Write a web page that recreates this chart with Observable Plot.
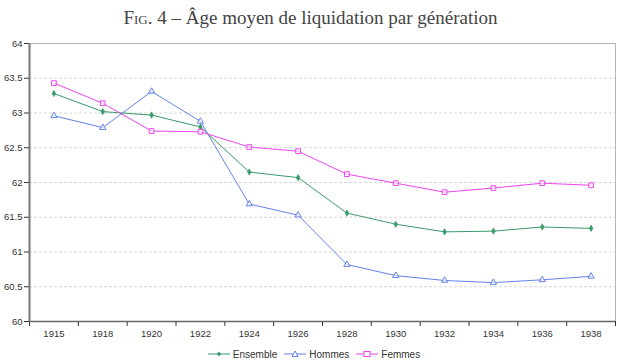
<!DOCTYPE html>
<html>
<head>
<meta charset="utf-8">
<script src="https://cdn.jsdelivr.net/npm/d3@7"></script>
<script src="https://cdn.jsdelivr.net/npm/@observablehq/plot@0.6"></script>
<style>
  body { margin: 0; background: #fff; width: 621px; overflow: hidden; }
  #title { font-family: "Liberation Serif", "DejaVu Serif", serif; font-size: 19px; color: #444; text-align: center; height: 36px; line-height: 36px; }
  #title .sc { font-variant: small-caps; }
  #legend { font-family: "Liberation Sans", Arial, sans-serif; font-size: 10px; color: #333; display: flex; justify-content: center; gap: 6px; margin-top: 6px; padding-left: 6px; }
  #legend span.item { display: inline-flex; align-items: center; gap: 2px; }
</style>
</head>
<body>
<div id="title"><span class="sc">Fig.</span> 4 – Âge moyen de liquidation par génération</div>
<div id="chart"></div>
<div id="legend"></div>
<script>
const years = ["1915","1918","1920","1922","1924","1926","1928","1930","1932","1934","1936","1938"];
const ensemble = [63.28,63.02,62.97,62.80,62.15,62.07,61.56,61.40,61.29,61.30,61.36,61.34];
const hommes   = [62.96,62.79,63.31,62.88,61.69,61.53,60.82,60.66,60.59,60.56,60.60,60.65];
const femmes   = [63.43,63.14,62.74,62.73,62.51,62.45,62.12,61.99,61.86,61.92,61.99,61.96];
const yTicks = [60,60.5,61,61.5,62,62.5,63,63.5,64];
const seriesNames = ["Ensemble","Hommes","Femmes"];
const colors = {Ensemble: "#3a9a6a", Hommes: "#6282ea", Femmes: "#ee44ee"};

const seriesValues = {Ensemble: ensemble, Hommes: hommes, Femmes: femmes};
const rows = [];
for (const s of seriesNames) {
  seriesValues[s].forEach((v, i) => rows.push({series: s, year: years[i], pos: i + 0.5, value: v}));
}
const centers = years.map((_, i) => i + 0.5);

const marks = [
  Plot.ruleY(yTicks.filter(d => d > 60 && d < 64), {stroke: "#d6d6d6", strokeDasharray: "3,2", strokeWidth: 1}),
  Plot.ruleY([64], {stroke: "#b5b5b5"}),
  Plot.ruleX([12], {stroke: "#b5b5b5"}),
  Plot.axisY({ticks: yTicks, tickSize: 5, tickPadding: 2, tickFormat: d => String(d), fontSize: 9.5, label: null, color: "#333"}),
  Plot.axisX({ticks: d3.range(13), tickSize: 5, tickFormat: () => "", label: null, color: "#333"}),
  Plot.axisX({ticks: centers, tickSize: 0, tickPadding: 9, tickFormat: d => years[Math.round(d - 0.5)], fontSize: 9.5, label: null, color: "#333"}),
  Plot.ruleY([60], {stroke: "#666", strokeWidth: 1.5}),
  Plot.ruleX([0], {stroke: "#777", strokeWidth: 2})
];
for (const s of seriesNames) {
  const data = rows.filter(r => r.series === s);
  marks.push(Plot.line(data, {x: "pos", y: "value", stroke: colors[s], strokeWidth: 1}));
  if (s === "Ensemble") {
    marks.push(Plot.dot(data, {x: "pos", y: "value", symbol: "diamond", r: 2, fill: colors[s], stroke: colors[s], strokeWidth: 0.5}));
  } else {
    marks.push(Plot.dot(data, {x: "pos", y: "value", symbol: s === "Hommes" ? "triangle2" : "square2", r: 3, fill: "white", fillOpacity: 0.6, stroke: colors[s], strokeWidth: 1}));
  }
}

const chart = Plot.plot({
  width: 621,
  height: 306,
  marginLeft: 29,
  marginRight: 6,
  marginTop: 7,
  marginBottom: 21,
  style: {fontFamily: "'Liberation Sans', Arial, sans-serif", background: "white"},
  x: {type: "linear", domain: [0, 12]},
  y: {domain: [60, 64]},
  marks
});
document.getElementById("chart").appendChild(chart);

// legend
const legend = document.getElementById("legend");
for (const s of seriesNames) {
  const item = document.createElement("span");
  item.className = "item";
  const sym = s === "Ensemble"
    ? `<path d="M12,3.5 L14,6 L12,8.5 L10,6Z" fill="${colors[s]}"/>`
    : s === "Hommes"
      ? `<path d="M12,3 L15,8.5 L9,8.5Z" fill="white" stroke="${colors[s]}"/>`
      : `<rect x="9" y="3.5" width="6" height="5" fill="white" stroke="${colors[s]}"/>`;
  item.innerHTML = `<svg width="24" height="12"><line x1="1" x2="23" y1="6" y2="6" stroke="${colors[s]}" stroke-width="1"/>${sym}</svg><span>${s}</span>`;
  legend.appendChild(item);
}
</script>
</body>
</html>
